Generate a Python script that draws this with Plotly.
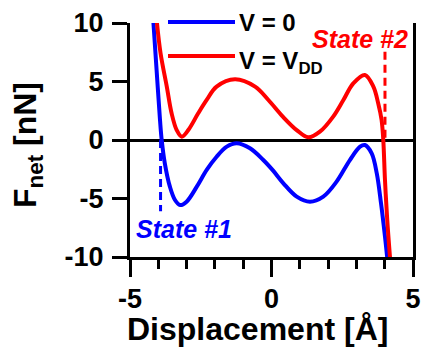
import plotly.graph_objects as go

# Blue curve: V = 0
blue_x = [-4.18, -4.06, -3.94, -3.88, -3.77, -3.59, -3.41, -3.23, -3.0, -2.64, -2.29,
          -1.94, -1.58, -1.23, -0.76, -0.29, 0.05, 0.42, 0.89, 1.36, 1.83, 2.30,
          2.77, 3.13, 3.30, 3.54, 3.72, 3.87, 4.01, 4.09]
blue_y = [10.3, 5.98, 1.71, 0.0, -1.99, -3.99, -5.13, -5.56, -5.27, -3.99, -2.56,
          -1.43, -0.57, -0.28, -0.71, -1.71, -2.6, -3.70, -4.84, -5.27, -4.84, -3.56,
          -1.71, -0.57, -0.43, -1.14, -2.85, -5.41, -8.26, -10.1]

# Red curve: V = VDD
red_x = [-4.06, -3.92, -3.70, -3.53, -3.35, -3.17, -2.94, -2.59, -2.29, -1.94, -1.29,
         -0.58, -0.11, 0.40, 0.89, 1.30, 1.71, 2.18, 2.54, 2.89, 3.30, 3.60, 3.77,
         3.89, 3.95, 4.01, 4.09, 4.19]
red_y = [10.3, 7.41, 4.56, 2.28, 0.85, 0.28, 0.85, 2.28, 3.42, 4.56, 5.19,
         4.56, 3.42, 2.0, 0.85, 0.23, 0.71, 2.0, 3.42, 4.84, 5.56, 4.56, 3.14,
         1.71, 0.0, -3.42, -6.84, -10.1]

# State markers (dashed guides)
state1_x = [-3.92, -3.92]
state1_y = [0, -6.1]
state2_x = [4.01, 4.01]
state2_y = [7.55, 0]

x_ticks = [-5, 0, 5]
x_labels = ["-5", "0", "5"]
y_ticks = [-10, -5, 0, 5, 10]
y_labels = ["-10", "-5", "0", "5", "10"]

W, H = 422, 354
L, R, T, B = 130, 9, 23, 97
PW, PH = W - L - R, H - T - B

def px(x):
    return (x - L) / PW

def py(y):
    return (H - B - y) / PH

FONT = "Arial, Liberation Sans, sans-serif"

fig = go.Figure()
fig.add_trace(go.Scatter(x=blue_x, y=blue_y, mode="lines",
                         line=dict(color="#0000FF", width=4, shape="spline", smoothing=1.0),
                         showlegend=False))
fig.add_trace(go.Scatter(x=red_x, y=red_y, mode="lines",
                         line=dict(color="#FF0000", width=4, shape="spline", smoothing=1.0),
                         showlegend=False))
fig.add_trace(go.Scatter(x=state1_x, y=state1_y, mode="lines",
                         line=dict(color="#0000FF", width=3, dash="8px,5px"), showlegend=False))
fig.add_trace(go.Scatter(x=state2_x, y=state2_y, mode="lines",
                         line=dict(color="#FF0000", width=3, dash="8px,5px"), showlegend=False))

# Manual legend
for yy, col in [(22, "#0000FF"), (56, "#FF0000")]:
    fig.add_shape(type="line", xref="paper", yref="paper",
                  x0=px(168), x1=px(235), y0=py(yy), y1=py(yy),
                  line=dict(color=col, width=4))
fig.add_annotation(xref="paper", yref="paper", x=px(237), y=py(22), text="V = 0",
                   showarrow=False, xanchor="left", yanchor="middle",
                   font=dict(family=FONT, size=24, color="black", weight="bold"))
fig.add_annotation(xref="paper", yref="paper", x=px(237), y=py(56), text="V = V<sub>DD</sub>",
                   showarrow=False, xanchor="left", yanchor="middle", yshift=-6,
                   font=dict(family=FONT, size=24, color="black", weight="bold"))

# State labels
fig.add_annotation(x=3.13, y=8.6, text="State #2", showarrow=False,
                   font=dict(family=FONT, size=25, color="#FF0000", weight="bold", style="italic"))
fig.add_annotation(x=-3.1, y=-7.6, text="State #1", showarrow=False,
                   font=dict(family=FONT, size=25, color="#0000FF", weight="bold", style="italic"))

# Axis titles
fig.add_annotation(xref="paper", yref="paper", x=px(257), y=py(329), text="Displacement [Å]",
                   showarrow=False, xanchor="center", yanchor="middle",
                   font=dict(family=FONT, size=32, color="black", weight="bold"))
fig.add_annotation(xref="paper", yref="paper", x=px(27), y=py(145), text="F<sub>net</sub> [nN]",
                   showarrow=False, textangle=-90, xanchor="center", yanchor="middle",
                   font=dict(family=FONT, size=32, color="black", weight="bold"))

fig.update_xaxes(range=[-5, 5], tickvals=x_ticks, ticktext=x_labels, ticks="outside",
                 ticklen=17, tickwidth=3, automargin=False,
                 tickcolor="black", showline=True, linewidth=3, linecolor="black",
                 showgrid=False, zeroline=False, ticklabelstandoff=-1,
                 minor=dict(dtick=1, ticks="outside", ticklen=9, tickwidth=3, tickcolor="black"),
                 tickfont=dict(family=FONT, size=27, color="black", weight="bold"))
fig.update_yaxes(range=[-10, 10], tickvals=y_ticks, ticktext=y_labels, ticks="outside",
                 ticklen=15, tickwidth=3, automargin=False,
                 tickcolor="black", showline=True, linewidth=3, linecolor="black", mirror=True,
                 showgrid=False, zeroline=True, zerolinewidth=3, zerolinecolor="black",
                 ticklabelstandoff=3,
                 tickfont=dict(family=FONT, size=27, color="black", weight="bold"))

fig.update_layout(width=W, height=H, margin=dict(l=L, r=R, t=T, b=B),
                  plot_bgcolor="white", paper_bgcolor="white", showlegend=False)

fig.write_html("out.html", config={"displayModeBar": False},
               post_script="document.body.style.margin='0px';")
